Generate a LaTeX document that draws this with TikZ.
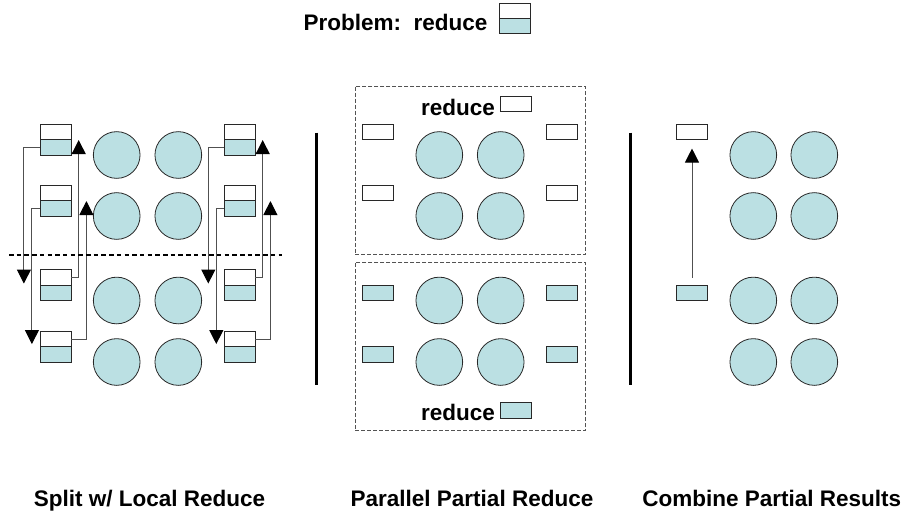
\documentclass[tikz,border=0pt]{standalone}
\usepackage{fontspec}
\setmainfont{Liberation Sans}
\usepackage{tikz}
\usetikzlibrary{arrows.meta}
\definecolor{PEcyan}{RGB}{187, 224, 227}
\definecolor{edgegray}{RGB}{40, 40, 40}
\definecolor{wire}{RGB}{80, 80, 80}
\tikzset{every node/.style={font=\fontsize{22.5}{27}\selectfont\bfseries}, >={Triangle[length=14pt, width=14pt, color=black]}}

\begin{document}
\begin{tikzpicture}[
    x=1pt, y=-1pt,
    val/.style={
        draw=edgegray,
        fill=white,
        line width=0.8pt,
        minimum width=31pt,
        minimum height=15.3pt,
        inner sep=0pt
    },
    part/.style={
        val,
        fill=PEcyan
    },
    proc/.style={
        circle,
        draw=edgegray,
        fill=PEcyan,
        line width=0.8pt,
        minimum size=46.7pt,
        inner sep=0pt
    },
    flow/.style={
        ->,
        draw=wire,
        line width=1pt
    },
    region/.style={
        draw=edgegray!80,
        dash pattern=on 4pt off 2pt,
        line width=0.8pt,
        minimum width=230.5pt,
        minimum height=168.3pt,
        inner sep=0pt
    },
    cut/.style={
        line width=2.4pt,
        dash pattern=on 4.5pt off 3.2pt
    },
    bar/.style={
        line width=3pt
    }
]
\useasboundingbox (0,0) rectangle (908,514);

% title
\node[anchor=base west] (prob) at (300,30) {Problem:\ \ reduce};
\node[val] (pu) at (514.8,10.8) {};
\node[part] (pl) at (514.8,26.1) {};

% split w/ local reduce
\node[val] (a1u) at (55.5,132) {};
\node[part] (a1l) at (55.5,147.3) {};
\node[val] (a2u) at (55.5,193) {};
\node[part] (a2l) at (55.5,208.3) {};
\node[val] (a3u) at (55.5,277.5) {};
\node[part] (a3l) at (55.5,292.8) {};
\node[val] (a4u) at (55.5,339) {};
\node[part] (a4l) at (55.5,354.3) {};

\node[proc] (p11) at (116.7,155) {};
\node[proc] (p12) at (178.3,155) {};
\node[proc] (p21) at (116.7,216) {};
\node[proc] (p22) at (178.3,216) {};
\node[proc] (p31) at (116.7,300.5) {};
\node[proc] (p32) at (178.3,300.5) {};
\node[proc] (p41) at (116.7,362) {};
\node[proc] (p42) at (178.3,362) {};

\node[val] (b1u) at (239.5,132) {};
\node[part] (b1l) at (239.5,147.3) {};
\node[val] (b2u) at (239.5,193) {};
\node[part] (b2l) at (239.5,208.3) {};
\node[val] (b3u) at (239.5,277.5) {};
\node[part] (b3l) at (239.5,292.8) {};
\node[val] (b4u) at (239.5,339) {};
\node[part] (b4l) at (239.5,354.3) {};

\draw[flow] (a1l.west) -| ([xshift=-15.7pt, yshift=2pt]a3u.south west);
\draw[flow] (a2l.west) -| ([xshift=-7.7pt, yshift=3pt]a4u.south west);
\draw[flow] (a3u.east) -| ([xshift=7.3pt]a1u.south east);
\draw[flow] (a4u.east) -| ([xshift=15pt]a2u.south east);

\draw[flow] (b1l.west) -| ([xshift=-15.3pt, yshift=2pt]b3u.south west);
\draw[flow] (b2l.west) -| ([xshift=-7.3pt, yshift=3pt]b4u.south west);
\draw[flow] (b3u.east) -| ([xshift=7.3pt]b1u.south east);
\draw[flow] (b4u.east) -| ([xshift=15pt]b2u.south east);

\coordinate (cutL) at (9,255);
\coordinate (cutR) at (282,255);
\draw[cut] (cutL) -- (cutR);

\coordinate (bar1t) at (316,132.5);
\coordinate (bar1b) at (316,385);
\draw[bar] (bar1t) -- (bar1b);

% parallel partial reduce
\node[region] (top) at (470.3,170.2) {};
\node[region] (bot) at (470.3,346.7) {};

\node[anchor=base west] (redtop) at (417.5,115) {reduce};
\node[val] (rtop) at (516,104.2) {};
\node[anchor=base west] (redbot) at (417.5,420) {reduce};
\node[part] (rbot) at (516,410.5) {};

\node[val] (m1l) at (378,132) {};
\node[val] (m1r) at (562,132) {};
\node[val] (m2l) at (378,193) {};
\node[val] (m2r) at (562,193) {};
\node[part] (m3l) at (378,292.8) {};
\node[part] (m3r) at (562,292.8) {};
\node[part] (m4l) at (378,354.3) {};
\node[part] (m4r) at (562,354.3) {};

\node[proc] (q11) at (439.3,155) {};
\node[proc] (q12) at (500.7,155) {};
\node[proc] (q21) at (439.3,216) {};
\node[proc] (q22) at (500.7,216) {};
\node[proc] (q31) at (439.3,300.5) {};
\node[proc] (q32) at (500.7,300.5) {};
\node[proc] (q41) at (439.3,362) {};
\node[proc] (q42) at (500.7,362) {};

\coordinate (bar2t) at (630.7,132.5);
\coordinate (bar2b) at (630.7,385);
\draw[bar] (bar2t) -- (bar2b);

% combine partial results
\node[val] (cup) at (692,132) {};
\node[part] (clo) at (692,292.8) {};
\draw[flow] ([yshift=7pt]clo.north) -- ([yshift=-8.5pt]cup.south);

\node[proc] (r11) at (753.3,155) {};
\node[proc] (r12) at (814.3,155) {};
\node[proc] (r21) at (753.3,216) {};
\node[proc] (r22) at (814.3,216) {};
\node[proc] (r31) at (753.3,300.5) {};
\node[proc] (r32) at (814.3,300.5) {};
\node[proc] (r41) at (753.3,362) {};
\node[proc] (r42) at (814.3,362) {};

% captions
\node[anchor=base] (lab1) at (149.5,506) {Split w/ Local Reduce};
\node[anchor=base] (lab2) at (472,506) {Parallel Partial Reduce};
\node[anchor=base] (lab3) at (771.7,506) {Combine Partial Results};

\end{tikzpicture}
\end{document}
